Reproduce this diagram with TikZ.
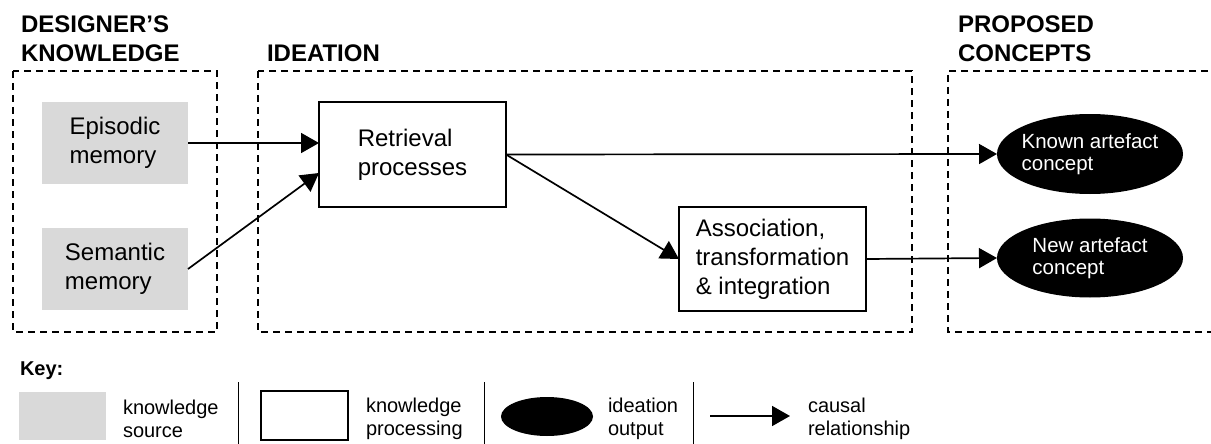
\documentclass[tikz,border=0pt]{standalone}
\usepackage{fontspec}
\setmainfont{Liberation Sans}
\usetikzlibrary{arrows.meta,shapes.geometric,calc}
\definecolor{kgray}{RGB}{217,217,217}
\begin{document}
\begin{tikzpicture}[x=1pt,y=-1pt,
  every node/.style={inner sep=0pt, outer sep=0pt},
  head/.style={font=\fontsize{24}{29}\selectfont\bfseries, align=left, anchor=base west},
  zone/.style={draw, line width=1.6pt, dash pattern=on 7pt off 5pt},
  src/.style={fill=kgray, font=\fontsize{24}{28.5}\selectfont, align=left},
  proc/.style={draw, line width=2pt, font=\fontsize{24}{29}\selectfont, align=left},
  outc/.style={ellipse, fill=black, text=white, font=\fontsize{20.5}{22.5}\selectfont, align=left, inner xsep=-3pt},
  keytext/.style={font=\fontsize{20}{23}\selectfont, align=left, anchor=west},
  causal/.style={line width=1.7pt, -{Triangle[length=18pt,width=20pt]}},
  sep/.style={line width=1pt}
]
\useasboundingbox (0,0) rectangle (1211,444);
% zones
\draw[zone] (13,71) rectangle (217,332);
\draw[zone] (258,71) rectangle (912,332);
\draw[zone] (1220,71) -- (948,71) -- (948,332) -- (1220,332);
% headings (base anchor = baseline of last line)
\node[head] (hk) at (21,62) {DESIGNER’S\\KNOWLEDGE};
\node[head] (hi) at (267,62) {IDEATION};
\node[head] (hp) at (958,62) {PROPOSED\\CONCEPTS};
% nodes
\node[src, minimum width=146pt, minimum height=82pt] (epi) at (115,143) {Episodic\\memory};
\node[src, minimum width=146pt, minimum height=82pt] (sem) at (115,269) {Semantic\\memory};
\node[proc, minimum width=187pt, minimum height=105pt] (ret) at (412.5,154.5) {Retrieval\\processes};
\node[proc, minimum width=187pt, minimum height=104pt] (asc) at (772.5,259) {Association,\\transformation\\\& integration};
\node[outc, minimum width=186pt, minimum height=80pt] (known) at (1090,154) {Known artefact\\concept};
\node[outc, minimum width=186pt, minimum height=79pt] (new) at (1090,258) {New artefact\\concept};
% connectors
\draw[causal] (epi.east) -- (epi.east -| ret.west);
\draw[causal] (sem.east) -- ([yshift=-18.5pt]ret.west);
\draw[causal] (ret.east) -- (known.west);
\draw[causal] (ret.east) -- (asc.west);
\draw[causal] (asc.east) -- (new.west);
% key
\node[font=\fontsize{20}{23}\selectfont\bfseries, anchor=base west] (key) at (20,375) {Key:};
\node[fill=kgray, minimum width=87pt, minimum height=48pt] (k1) at (62.5,416) {};
\node[keytext] (k1t) at (123,419) {knowledge\\source};
\draw[sep] (238,382) -- (238,444);
\node[draw, line width=2pt, minimum width=87pt, minimum height=49pt] (k2) at (304.5,415.5) {};
\node[keytext] (k2t) at (366,419) {knowledge\\processing};
\draw[sep] (484,382) -- (484,444);
\node[ellipse, fill=black, minimum width=92pt, minimum height=39pt] (k3) at (547,416.5) {};
\node[keytext] (k3t) at (608,419) {ideation\\output};
\draw[sep] (693,382) -- (693,444);
\coordinate (k4a) at (710,416);
\coordinate (k4b) at (790,416);
\draw[causal] (k4a) -- (k4b);
\node[keytext] (k4t) at (808,419) {causal\\relationship};
\end{tikzpicture}
\end{document}
